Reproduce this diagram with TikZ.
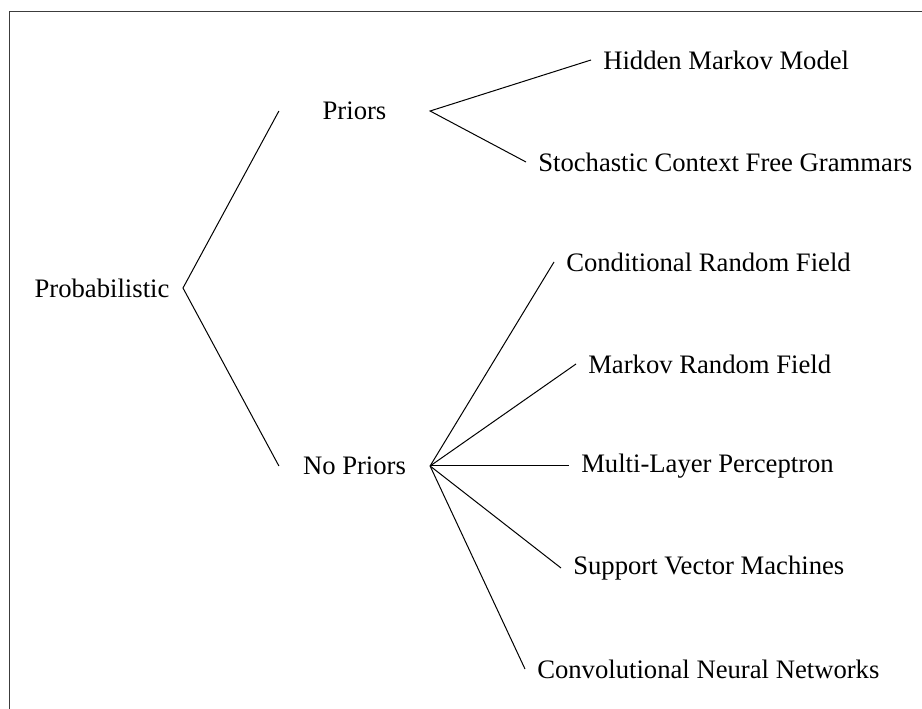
\documentclass[tikz,border=0pt]{standalone}
\usepackage{fontspec}
\setmainfont{Liberation Serif}
\usepackage{tikz}

\begin{document}
\begin{tikzpicture}[x=0.75pt,y=0.75pt,yscale=-1,xscale=1,
	every node/.style={font=\fontsize{20}{24}\selectfont, inner ysep=0.75pt},
	leaf/.style={anchor=west, inner xsep=9pt},
	root/.style={anchor=east, inner xsep=10pt},
	mid/.style={minimum width=113pt, inner xsep=0pt},
	branch/.style={line width=0.75pt}]
	\useasboundingbox (0,0) rectangle (922,709);
	
	%Straight Lines: frame
	\draw [color={rgb, 255:red, 60; green, 60; blue, 60 }, line width=0.75pt] (9,709) -- (9,12) -- (922,12) ;
	
	% Text Node
	\node (prob) at (183,288) [root] {Probabilistic};
	% Text Node
	\node (pri) at (354.5,111) [mid] {Priors};
	% Text Node
	\node (nopri) at (354.5,466) [mid] {No Priors};
	% Text Node
	\node (hmm) at (591,60) [leaf] {Hidden Markov Model};
	% Text Node
	\node (scfg) at (526,162) [leaf] {Stochastic Context Free Grammars};
	% Text Node
	\node (crf) at (554,262) [leaf] {Conditional Random Field};
	% Text Node
	\node (mrf) at (576,364) [leaf] {Markov Random Field};
	% Text Node
	\node (mlp) at (569,466) [leaf] {Multi-Layer Perceptron};
	% Text Node
	\node (svm) at (561,568) [leaf] {Support Vector Machines};
	% Text Node
	\node (cnn) at (525,669) [leaf] {Convolutional Neural Networks};
	
	%Straight Lines
	\draw [branch] (pri.west) -- (prob.east) -- (nopri.west) ;
	\draw [branch] (hmm.west) -- (pri.east) -- (scfg.west) ;
	\foreach \n in {crf,mrf,mlp,svm,cnn}
		\draw [branch] (nopri.east) -- (\n.west) ;
\end{tikzpicture}
\end{document}
